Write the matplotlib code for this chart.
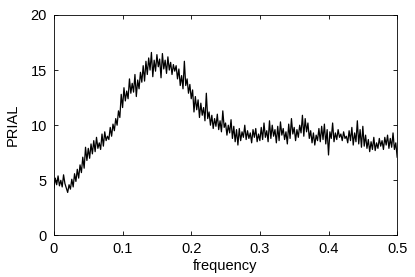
import numpy as np
import matplotlib.pyplot as plt

plt.rcParams['font.family'] = ['Liberation Sans', 'DejaVu Sans']

# frequency grid, step 0.002
freq = np.round(np.arange(0, 0.5001, 0.002), 3)

# PRIAL values, one block per 0.1 of frequency
prial_a = [4.3, 5.2, 4.6, 5.4, 4.5, 5.0, 4.4, 5.5, 4.7, 4.3,
           3.9, 4.6, 4.2, 5.1, 4.4, 5.6, 4.9, 6.0, 5.2, 6.4,
           5.7, 7.1, 6.1, 8.0, 6.8, 7.9, 7.0, 8.3, 7.4, 8.6,
           7.6, 8.9, 7.9, 8.4, 7.8, 9.2, 8.1, 9.4, 8.6, 9.0,
           8.7, 9.8, 9.0, 10.1, 9.5, 10.6, 10.0, 11.3, 10.7, 12.8,
           11.6]
prial_b = [13.4, 12.2, 13.1, 12.4, 14.2, 12.9, 13.8, 13.0, 14.6, 12.6,
           14.1, 13.3, 14.8, 13.9, 15.4, 14.0, 15.8, 14.6, 16.1, 15.0,
           16.6, 14.4, 15.9, 14.9, 16.4, 15.3, 16.0, 14.3, 16.5, 15.1,
           15.9, 14.7, 16.2, 15.0, 15.7, 14.6, 15.5, 14.9, 15.4, 14.2,
           15.1, 13.6, 14.5, 13.3, 15.8, 13.6, 14.2, 12.9, 13.7, 12.4]
prial_c = [13.2, 11.2, 12.6, 11.4, 12.3, 10.7, 12.0, 10.9, 11.6, 10.4,
           12.9, 10.6, 11.2, 10.0, 10.9, 9.7, 10.6, 9.9, 11.0, 9.6,
           10.4, 9.4, 11.3, 9.8, 10.2, 9.1, 10.0, 9.3, 10.5, 8.8,
           9.9, 8.5, 9.6, 8.2, 9.7, 8.6, 9.4, 8.9, 10.0, 8.7,
           9.5, 8.8, 9.3, 8.4, 9.6, 8.9, 9.7, 8.5, 9.2, 8.6]
prial_d = [9.8, 8.7, 10.2, 8.9, 9.5, 8.5, 10.4, 8.8, 10.0, 9.0,
           9.6, 8.4, 9.9, 8.6, 10.3, 9.1, 9.7, 8.7, 9.4, 8.3,
           10.1, 8.8, 10.6, 9.2, 9.8, 8.6, 9.6, 8.9, 10.0, 9.3,
           10.9, 9.0, 10.6, 9.4, 10.2, 8.8, 9.5, 8.4, 9.3, 8.2,
           9.1, 8.6, 9.7, 8.5, 9.9, 8.7, 10.1, 8.3, 9.6, 7.3]
prial_e = [9.4, 8.8, 10.2, 8.5, 9.3, 8.7, 9.6, 8.9, 9.2, 8.6,
           9.4, 8.8, 9.0, 8.4, 9.5, 8.6, 9.8, 8.2, 9.3, 8.5,
           10.4, 8.3, 9.6, 8.0, 9.9, 8.1, 9.1, 7.9, 8.7, 7.6,
           8.5, 7.8, 8.9, 7.7, 8.4, 7.9, 8.8, 8.1, 8.6, 7.8,
           8.9, 8.2, 9.1, 7.9, 8.8, 8.0, 9.3, 7.8, 8.4, 7.1]
prial = np.array(prial_a + prial_b + prial_c + prial_d + prial_e)

fig = plt.figure(figsize=(4.15, 2.77), dpi=100)
ax = fig.add_axes([0.130, 0.150, 0.827, 0.796])
ax.plot(freq, prial, color='black', lw=0.9)

ax.set_xlim(0, 0.5)
ax.set_ylim(0, 20)
ax.set_xticks([0, 0.1, 0.2, 0.3, 0.4, 0.5])
ax.set_xticklabels(['0', '0.1', '0.2', '0.3', '0.4', '0.5'])
ax.set_yticks([0, 5, 10, 15, 20])
ax.tick_params(direction='in', top=True, right=True, length=3, width=0.6,
               labelsize=10.5, pad=5)
for s in ax.spines.values():
    s.set_linewidth(0.6)
ax.set_xlabel('frequency', fontsize=10.5, labelpad=2)
ax.set_ylabel('PRIAL', fontsize=10.5, labelpad=8)

fig.savefig('out.png', dpi=100)
